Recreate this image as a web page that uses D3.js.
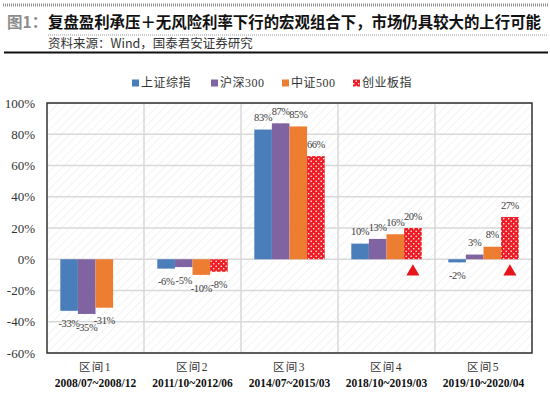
<!DOCTYPE html>
<html>
<head>
<meta charset="utf-8">
<script src="https://cdn.jsdelivr.net/npm/d3@7/dist/d3.min.js"></script>
<style>
  body { margin: 0; background: #fff; }
  svg { display: block; }
</style>
</head>
<body>
<svg id="chart" width="550" height="393"></svg>
<script>
var categories = ["区间1", "区间2", "区间3", "区间4", "区间5"];
var periods = ["2008/07~2008/12", "2011/10~2012/06", "2014/07~2015/03", "2018/10~2019/03", "2019/10~2020/04"];
var series = ["上证综指", "沪深300", "中证500", "创业板指"];
var szzs = [-33, -6, 83, 10, -2];
var hs300 = [-35, -5, 87, 13, 3];
var zz500 = [-31, -10, 85, 16, 8];
var cybz = [null, -8, 66, 20, 27];
var markedCats = ["区间4", "区间5"];
var yTicks = [-60, -40, -20, 0, 20, 40, 60, 80, 100];

var colors = ["#4a7ebb", "#8064a2", "#ed7d31", "url(#dots)"];
var values = [szzs, hs300, zz500, cybz];

var svg = d3.select("#chart");
var defs = svg.append("defs");

// diagonal hatch for plot background
var hatch = defs.append("pattern")
  .attr("id", "hatch")
  .attr("patternUnits", "userSpaceOnUse")
  .attr("width", 6).attr("height", 6)
  .attr("patternTransform", "rotate(45)");
hatch.append("line")
  .attr("x1", 0).attr("y1", 0).attr("x2", 0).attr("y2", 6)
  .attr("stroke", "#ebebeb").attr("stroke-width", 1.2);

// red bars with white dots
var dots = defs.append("pattern")
  .attr("id", "dots")
  .attr("patternUnits", "userSpaceOnUse")
  .attr("width", 5).attr("height", 5);
dots.append("rect").attr("width", 5).attr("height", 5).attr("fill", "#ee1c24");
dots.append("circle").attr("cx", 1.2).attr("cy", 1.2).attr("r", 0.8).attr("fill", "#fff");
dots.append("circle").attr("cx", 3.7).attr("cy", 3.7).attr("r", 0.8).attr("fill", "#fff");

// header
svg.append("line")
  .attr("x1", 3).attr("x2", 548).attr("y1", 5).attr("y2", 5)
  .attr("stroke", "#8c8c8c").attr("stroke-width", 3)
  .attr("stroke-dasharray", "1,1");
svg.append("text")
  .attr("x", 7).attr("y", 28)
  .attr("font-family", "Noto Sans CJK SC")
  .attr("font-weight", "bold").attr("font-size", 15.5)
  .attr("fill", "#8c8c8c")
  .text("图1：");
svg.append("text")
  .attr("x", 48).attr("y", 28)
  .attr("font-family", "Noto Sans CJK SC")
  .attr("font-weight", "bold").attr("font-size", 15.5)
  .attr("textLength", 493)
  .attr("lengthAdjust", "spacingAndGlyphs")
  .attr("fill", "#111")
  .text("复盘盈利承压＋无风险利率下行的宏观组合下，市场仍具较大的上行可能");
svg.append("line")
  .attr("x1", 48).attr("x2", 548).attr("y1", 35).attr("y2", 35)
  .attr("stroke", "#999").attr("stroke-width", 1)
  .attr("stroke-dasharray", "1,1");
svg.append("text")
  .attr("x", 48).attr("y", 47.5)
  .attr("font-family", "Noto Sans CJK SC")
  .attr("font-size", 12.5)
  .attr("fill", "#333")
  .text("资料来源：Wind，国泰君安证券研究");
svg.append("line")
  .attr("x1", 4).attr("x2", 548).attr("y1", 52.5).attr("y2", 52.5)
  .attr("stroke", "#111").attr("stroke-width", 2);

// scales
var x0 = d3.scaleBand().domain(categories).range([47, 532]);
var x1 = d3.scaleBand().domain(series).range([13.3, x0.bandwidth() - 13.3]);
var y = d3.scaleLinear().domain([-60, 100]).range([353, 103]);

var plot = svg.append("g");
plot.append("rect")
  .attr("x", 47).attr("y", 103)
  .attr("width", 485).attr("height", 250)
  .attr("fill", "url(#hatch)");

// grid
plot.selectAll("line.hgrid").data(yTicks).enter().append("line")
  .attr("class", "hgrid")
  .attr("x1", 47).attr("x2", 532)
  .attr("y1", function(d) { return y(d); })
  .attr("y2", function(d) { return y(d); })
  .attr("stroke", "#d9d9d9").attr("stroke-width", 1.5);
plot.selectAll("line.vgrid").data(categories.slice(1)).enter().append("line")
  .attr("class", "vgrid")
  .attr("x1", function(d) { return x0(d); })
  .attr("x2", function(d) { return x0(d); })
  .attr("y1", 103).attr("y2", 353)
  .attr("stroke", "#d9d9d9").attr("stroke-width", 1.5);

// bars
var rows = [];
categories.forEach(function(c, i) {
  series.forEach(function(s, j) {
    if (values[j][i] !== null) {
      rows.push({cat: c, s: s, v: values[j][i], j: j});
    }
  });
});

plot.selectAll("rect.bar").data(rows).enter().append("rect")
  .attr("class", "bar")
  .attr("x", function(d) { return x0(d.cat) + x1(d.s); })
  .attr("width", x1.bandwidth())
  .attr("y", function(d) { return y(Math.max(0, d.v)); })
  .attr("height", function(d) { return Math.abs(y(d.v) - y(0)); })
  .attr("fill", function(d) { return colors[d.j]; });

plot.selectAll("text.lbl").data(rows).enter().append("text")
  .attr("class", "lbl")
  .attr("x", function(d) { return x0(d.cat) + x1(d.s) + x1.bandwidth() / 2; })
  .attr("y", function(d) { return d.v >= 0 ? y(d.v) - 12 : y(d.v) + 13; })
  .attr("dy", "0.35em")
  .attr("text-anchor", "middle")
  .attr("font-family", "Liberation Serif")
  .attr("font-size", 10.5)
  .attr("letter-spacing", -0.4)
  .attr("fill", "#404040")
  .text(function(d) { return d.v + "%"; });

// red triangles under 创业板指
plot.selectAll("path.mark").data(markedCats).enter().append("path")
  .attr("class", "mark")
  .attr("d", d3.symbol().type(d3.symbolTriangle).size(75))
  .attr("transform", function(d) {
    return "translate(" + (x0(d) + x1("创业板指") + x1.bandwidth() / 2) + "," + (y(0) + 12.5) + ")";
  })
  .attr("fill", "#e8141c");

// border
plot.append("rect")
  .attr("x", 47).attr("y", 103)
  .attr("width", 485).attr("height", 250)
  .attr("fill", "none")
  .attr("stroke", "#333").attr("stroke-width", 1.5);

// y axis labels
var yAxis = d3.axisLeft(y).tickValues(yTicks).tickSize(0).tickPadding(12)
  .tickFormat(function(d) { return d + "%"; });
var yg = svg.append("g").attr("transform", "translate(47,0)").call(yAxis);
yg.select(".domain").remove();
yg.selectAll("text")
  .attr("font-family", "Liberation Serif")
  .attr("font-size", 13)
  .attr("fill", "#333");

// x labels
var xg = svg.append("g");
xg.selectAll("text.cat").data(categories).enter().append("text")
  .attr("class", "cat")
  .attr("x", function(d) { return x0(d) + x0.bandwidth() / 2; })
  .attr("y", 371)
  .attr("text-anchor", "middle")
  .attr("font-family", "Liberation Serif, Noto Sans CJK SC")
  .attr("font-size", 11.5)
  .attr("letter-spacing", 1.5)
  .attr("fill", "#333")
  .text(function(d) { return d; });
xg.selectAll("text.per").data(periods).enter().append("text")
  .attr("class", "per")
  .attr("x", function(d, i) { return x0(categories[i]) + x0.bandwidth() / 2; })
  .attr("y", 387)
  .attr("text-anchor", "middle")
  .attr("font-family", "Liberation Serif")
  .attr("font-weight", "bold")
  .attr("font-size", 11.5)
  .attr("fill", "#111")
  .text(function(d) { return d; });

// legend
var legendX = [132, 211, 282, 353];
var legend = svg.append("g");
series.forEach(function(s, j) {
  legend.append("rect")
    .attr("x", legendX[j]).attr("y", 79.5)
    .attr("width", 7).attr("height", 7)
    .attr("fill", colors[j]);
  legend.append("text")
    .attr("x", legendX[j] + 9).attr("y", 83)
    .attr("dy", "0.35em")
    .attr("font-family", "Liberation Serif, Noto Sans CJK SC")
    .attr("font-size", 12)
    .attr("letter-spacing", 0.5)
    .attr("fill", "#333")
    .text(s);
});
</script>
</body>
</html>
